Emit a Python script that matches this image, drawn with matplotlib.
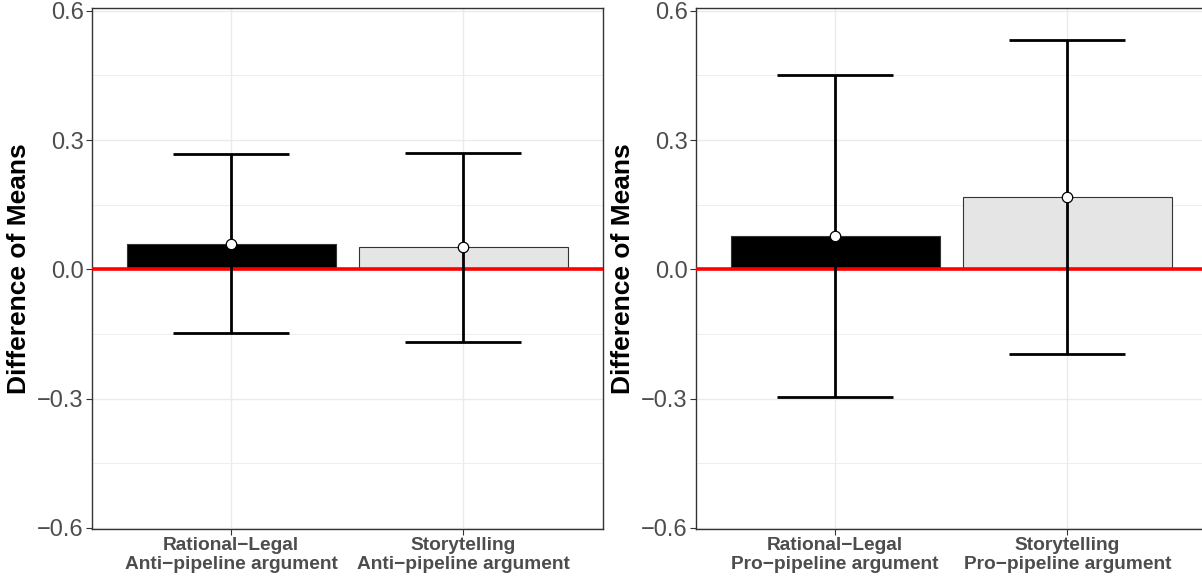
import matplotlib.pyplot as plt
import numpy as np

plt.rcParams['font.family'] = ['Liberation Sans', 'DejaVu Sans']

# data
cats_anti = ['Rational\u2212Legal\nAnti\u2212pipeline argument',
             'Storytelling\nAnti\u2212pipeline argument']
cats_pro = ['Rational\u2212Legal\nPro\u2212pipeline argument',
            'Storytelling\nPro\u2212pipeline argument']
mean_anti = [0.059, 0.051]
low_anti = [-0.148, -0.168]
high_anti = [0.268, 0.270]
mean_pro = [0.078, 0.168]
low_pro = [-0.296, -0.196]
high_pro = [0.452, 0.532]
bar_colors = ['#000000', '#E5E5E5']
yticks = [-0.6, -0.3, 0.0, 0.3, 0.6]

fig = plt.figure(figsize=(12.02, 5.79), dpi=100)
W, H = 1202.0, 579.0
ax_l = fig.add_axes([92 / W, (H - 528.5) / H, 510.5 / W, 520.2 / H])
ax_r = fig.add_axes([696 / W, (H - 528.5) / H, 510.5 / W, 520.2 / H])


def draw_panel(ax, cats, mean, low, high):
    x = np.arange(len(cats))
    ax.set_axisbelow(True)
    ax.bar(x, mean, width=0.9, color=bar_colors, edgecolor='#333333',
           linewidth=0.8, zorder=2)
    ax.axhline(0, color='#FF0000', linewidth=2.6, zorder=3)
    m = np.array(mean)
    ax.errorbar(x, m, yerr=[m - np.array(low), np.array(high) - m],
                fmt='none', ecolor='black', elinewidth=2.0, capsize=42,
                capthick=2.0, zorder=4)
    ax.plot(x, mean, 'o', markersize=7.5, markerfacecolor='white',
            markeredgecolor='black', markeredgewidth=0.9, zorder=5)
    ax.set_xlim(-0.6, 1.6)
    ax.set_ylim(-0.6015, 0.6058)
    ax.set_yticks(yticks)
    ax.set_yticklabels(['\u22120.6', '\u22120.3', '0.0', '0.3', '0.6'])
    ax.set_yticks([-0.45, -0.15, 0.15, 0.45], minor=True)
    ax.set_xticks(x)
    ax.set_xticklabels(cats, fontweight='bold', fontsize=13.8,
                       color='#4D4D4D', linespacing=1.2)
    ax.tick_params(axis='y', which='major', labelsize=17,
                   labelcolor='#4D4D4D', length=4, width=0.8,
                   color='#333333', pad=2)
    ax.tick_params(axis='y', which='minor', length=0)
    ax.tick_params(axis='x', length=4, width=0.8, color='#333333', pad=2)
    ax.grid(which='major', color='#EBEBEB', linewidth=1.0)
    ax.grid(which='minor', axis='y', color='#EBEBEB', linewidth=0.6)
    for s in ax.spines.values():
        s.set_color('#333333')
        s.set_linewidth(1.0)
    ax.set_ylabel('Difference of Means', fontsize=19, fontweight='bold',
                  labelpad=4)


draw_panel(ax_l, cats_anti, mean_anti, low_anti, high_anti)
draw_panel(ax_r, cats_pro, mean_pro, low_pro, high_pro)

fig.savefig('out.png', dpi=100)
